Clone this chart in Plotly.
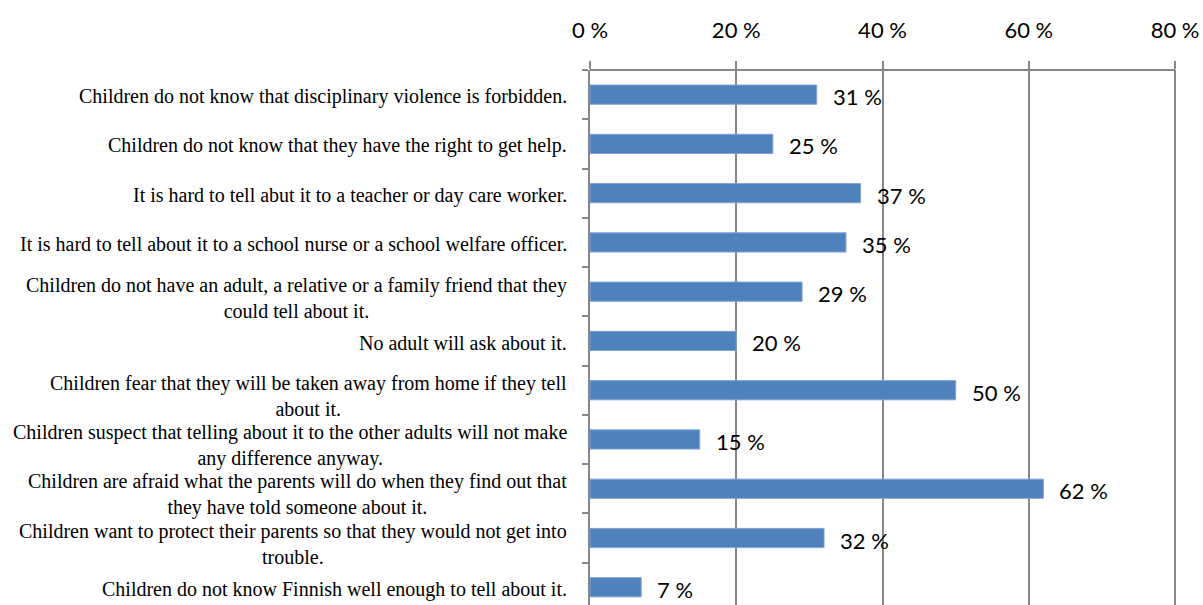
import plotly.graph_objects as go

categories = [
    "Children do not know that disciplinary violence is forbidden.",
    "Children do not know that they have the right to get help.",
    "It is hard to tell abut it to a teacher or day care worker.",
    "It is hard to tell about it to a school nurse or a school welfare officer.",
    "Children do not have an adult, a relative or a family friend that they<br>could tell about it.",
    "No adult will ask about it.",
    "Children fear that they will be taken away from home if they tell<br>about it.",
    "Children suspect that telling about it to the other adults will not make<br>any difference anyway.",
    "Children are afraid what the parents will do when they find out that<br>they have told someone about it.",
    "Children want to protect their parents so that they would not get into<br>trouble.",
    "Children do not know Finnish well enough to tell about it.",
]
values = [31, 25, 37, 35, 29, 20, 50, 15, 62, 32, 7]
x_ticks = [0, 20, 40, 60, 80]

GRAY = "#868686"
SANS = "Lato, 'Open Sans', sans-serif"
SERIF = "'Liberation Serif', 'Times New Roman', serif"

fig = go.Figure()
fig.add_trace(go.Bar(
    x=values, y=categories, orientation="h",
    marker=dict(color="#4F81BD", line=dict(color="#7FA3D3", width=1)),
    width=0.39,
    hoverinfo="skip",
))

annotations = []
for cat, v in zip(categories, values):
    annotations.append(dict(
        x=v, y=cat, xref="x", yref="y", text=f"{v} %", showarrow=False,
        xanchor="left", yanchor="middle", xshift=14, yshift=-2,
        font=dict(family=SANS, size=22, color="#000000"),
    ))
    annotations.append(dict(
        x=0, y=cat, xref="paper", yref="y", text=cat, showarrow=False,
        xanchor="right", yanchor="middle", align="center", xshift=-21,
        yshift=-6 if "<br>" in cat else -2,
        font=dict(family=SERIF, size=20, color="#000000"),
    ))

fig.update_layout(
    width=1203, height=605,
    margin=dict(l=590, r=26, t=70, b=0),
    paper_bgcolor="white", plot_bgcolor="white",
    showlegend=False,
    annotations=annotations,
    xaxis=dict(
        side="top", range=[0, 80.27], tickvals=x_ticks,
        ticktext=[f"{t} %" for t in x_ticks],
        ticks="outside", ticklen=8, tickwidth=2, tickcolor=GRAY,
        showline=False,
        showgrid=True, gridcolor=GRAY, gridwidth=2,
        zeroline=False,
        tickfont=dict(family=SANS, size=22, color="#000000"),
        ticklabelstandoff=14,
        fixedrange=True,
    ),
    yaxis=dict(
        type="category", categoryorder="array", categoryarray=categories,
        range=[10.36, -0.5],
        showticklabels=False,
        ticks="outside", tickson="boundaries", ticklen=6, tickwidth=2, tickcolor=GRAY,
        showline=True, linecolor=GRAY, linewidth=2,
        showgrid=False, zeroline=False,
        fixedrange=True,
    ),
    shapes=[dict(
        type="line", xref="x", yref="paper", x0=0, x1=80, y0=1, y1=1,
        line=dict(color=GRAY, width=2), layer="above",
    )],
)

fig.write_html("out.html")
